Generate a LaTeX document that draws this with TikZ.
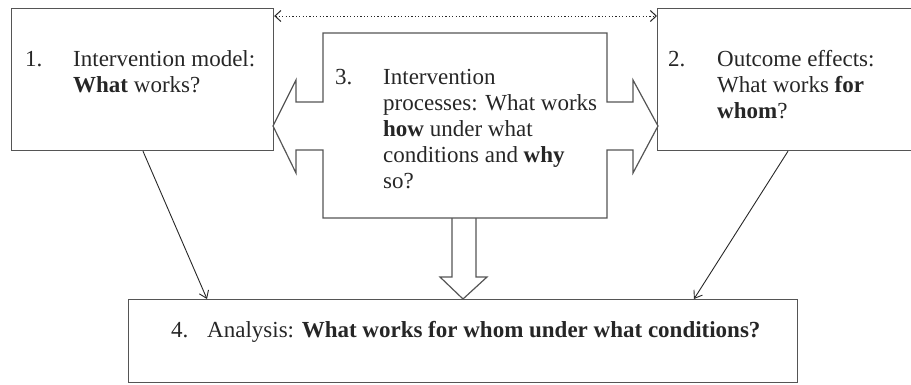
\documentclass[tikz,border=0pt]{standalone}
\usepackage{fontspec}
\setmainfont{Liberation Serif}
\usetikzlibrary{arrows.meta}
\definecolor{boxline}{RGB}{85,85,85}
\definecolor{conline}{RGB}{40,40,40}
\begin{document}
\begin{tikzpicture}[x=1pt,y=-1pt,
  box/.style={draw=boxline, line width=1.2pt, rectangle, anchor=north west, inner sep=0pt},
  blockshape/.style={draw=boxline, line width=1.2pt, line join=miter},
  txt/.style={inner sep=0pt, anchor=base west, align=left, font=\fontsize{23}{26}\selectfont, text=black!85},
  conn/.style={draw=conline, line width=0.9pt, -{Straight Barb[length=7pt,width=10pt]}},
  dotconn/.style={draw=conline, line width=1pt, dash pattern=on 1.1pt off 2.3pt,
    {Straight Barb[length=6pt,width=11pt]}-{Straight Barb[length=6pt,width=11pt]}}]
\clip (0,0) rectangle (911,384);
% boxes
\node[box, minimum width=262pt, minimum height=142pt] (b1) at (11,8) {};
\node[box, minimum width=262pt, minimum height=142pt] (b2) at (657,8) {};
\node[box, minimum width=669pt, minimum height=83pt] (b4) at (128,299) {};
% central shape with left and right block arrows
\path[blockshape] (323,33) -- (607,33) -- (607,102) -- (633,102) -- (633,80) -- (658,126)
  -- (633,173) -- (633,150) -- (607,150) -- (607,218) -- (323,218) -- (323,150)
  -- (296,150) -- (296,173) -- (273,126) -- (296,80) -- (296,102) -- (323,102) -- cycle;
\node[inner sep=0pt, minimum width=284pt, minimum height=185pt, anchor=north west] (b3) at (323,33) {};
% down block arrow
\path[blockshape] (452,218) -- (452,277) -- (440,277) -- (463,299) -- (487,277) -- (476,277) -- (476,218);
% texts (multi-line nodes are anchored at the baseline of their last line)
\node[txt] (n1) at (25,66) {1.};
\node[txt] (t1) at (73,92) {Intervention model:\\\textbf{What} works?};
\node[txt] (n2) at (668,66) {2.};
\node[txt] (t2) at (717,118) {Outcome effects:\\What works \textbf{for}\\\textbf{whom}?};
\node[txt] (n3) at (335,84) {3.};
\node[txt] (t3) at (383,188) {Intervention\\processes: What works\\\textbf{how} under what\\conditions and \textbf{why}\\so?};
\node[txt] (n4) at (171,337) {4.};
\node[txt] (t4) at (207,337) {Analysis: \textbf{What works for whom under what conditions?}};
% connectors
\draw[conn] ([xshift=132pt]b1.south west) -- ([xshift=79pt]b4.north west);
\draw[conn] ([xshift=131pt]b2.south west) -- ([xshift=566pt]b4.north west);
\draw[dotconn] ([yshift=-8pt]b1.north east) -- ([yshift=-8pt]b2.north west);
\end{tikzpicture}
\end{document}
